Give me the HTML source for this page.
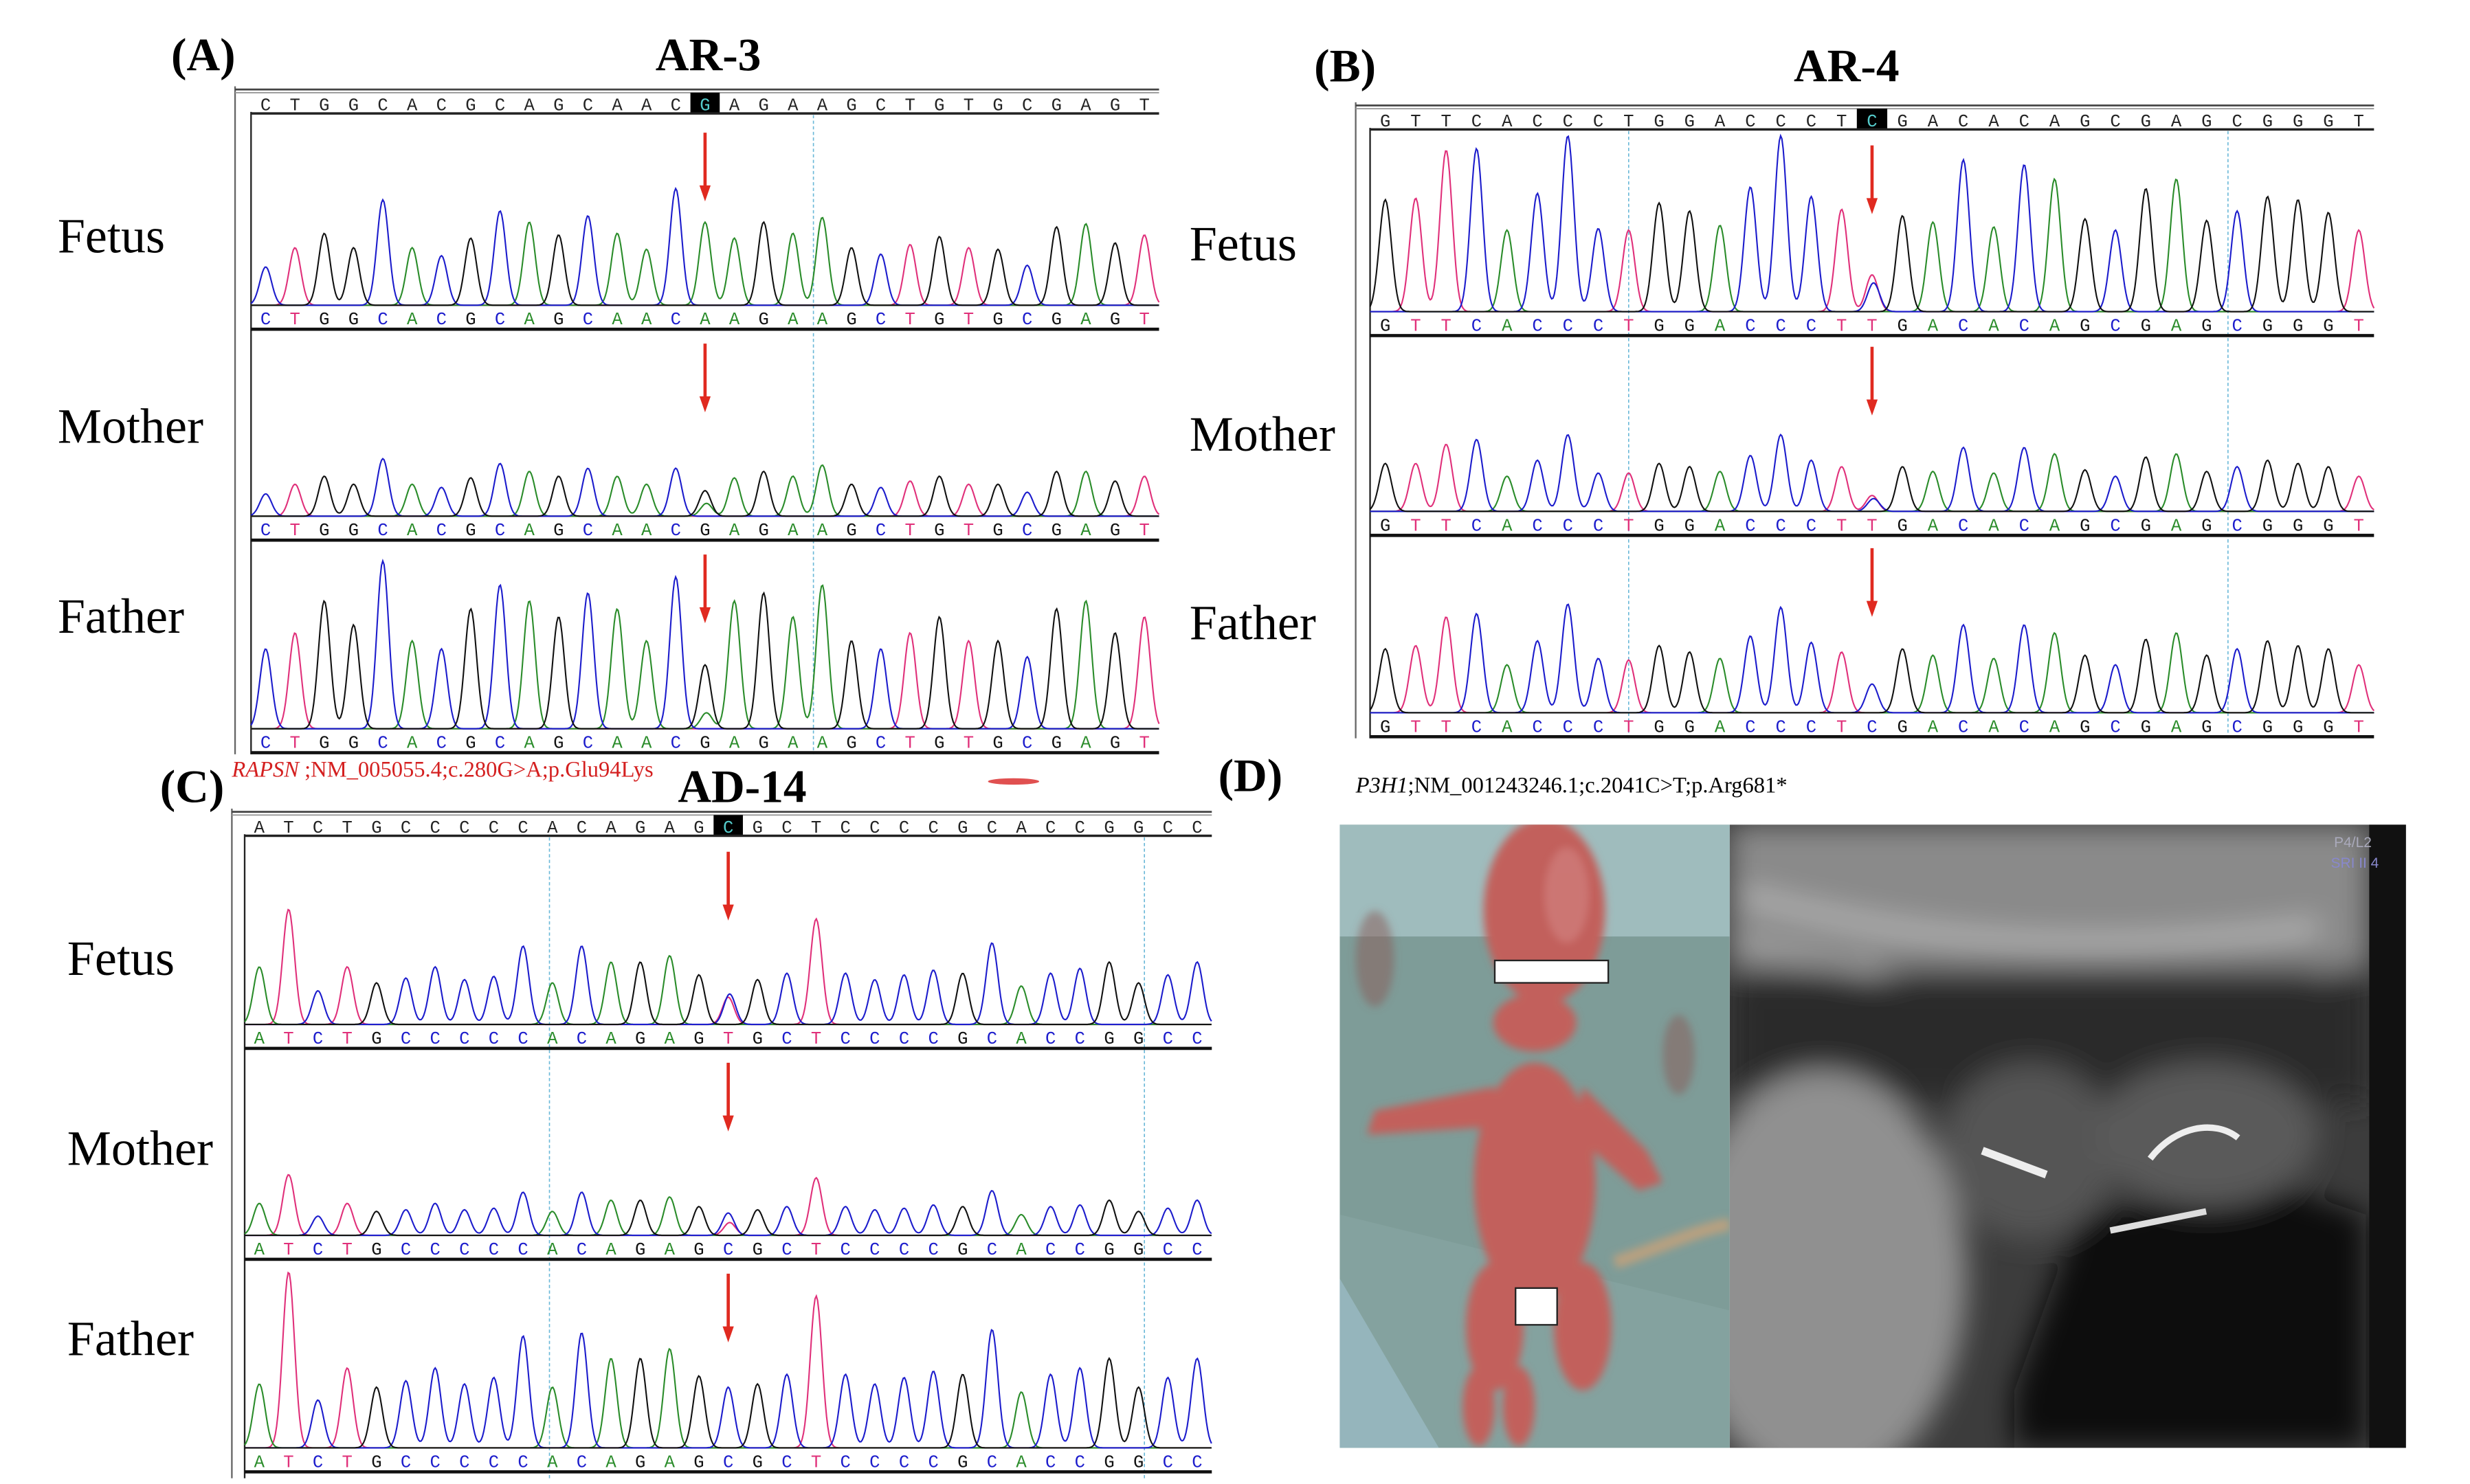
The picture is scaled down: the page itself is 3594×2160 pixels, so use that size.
<!DOCTYPE html>
<html><head><meta charset="utf-8">
<style>
html,body{margin:0;padding:0;background:#fff;}
svg{display:block;}
.lbl{font-family:"Liberation Serif",serif;font-size:31px;fill:#000;}
.ttl{font-family:"Liberation Serif",serif;font-size:29px;font-weight:bold;fill:#000;}
.seq{font-family:"Liberation Mono",monospace;font-size:11px;}
.cap{font-family:"Liberation Serif",serif;font-size:14px;}
</style></head>
<body>
<svg id="fig" width="3594" height="2160" viewBox="0 0 1545 928.6" xmlns="http://www.w3.org/2000/svg">
<defs>
<filter id="blur4"><feGaussianBlur stdDeviation="2.5"/></filter>
<filter id="blur8"><feGaussianBlur stdDeviation="9"/></filter>
<clipPath id="clipUS"><rect x="1082" y="516" width="423" height="390"/></clipPath>
<clipPath id="clipPh"><rect x="838" y="516" width="244" height="390"/></clipPath>
</defs>
<g id="panels"></g>

<text class="ttl" x="107" y="44">(A)</text>
<text class="ttl" x="410" y="44">AR-3</text>
<text class="ttl" x="822" y="51">(B)</text>
<text class="ttl" x="1122" y="51">AR-4</text>
<text class="ttl" x="100" y="502">(C)</text>
<text class="ttl" x="424" y="502">AD-14</text>
<text class="ttl" x="762" y="495">(D)</text>

<text class="lbl" x="36" y="158">Fetus</text>
<text class="lbl" x="36" y="277">Mother</text>
<text class="lbl" x="36" y="396">Father</text>
<text class="lbl" x="744" y="163">Fetus</text>
<text class="lbl" x="744" y="282">Mother</text>
<text class="lbl" x="744" y="400">Father</text>
<text class="lbl" x="42" y="610">Fetus</text>
<text class="lbl" x="42" y="729">Mother</text>
<text class="lbl" x="42" y="848">Father</text>

<text class="cap" x="145" y="486" fill="#d42020"><tspan font-style="italic">RAPSN</tspan> ;NM_005055.4;c.280G&gt;A;p.Glu94Lys</text>
<text class="cap" x="848" y="496" fill="#000"><tspan font-style="italic">P3H1</tspan>;NM_001243246.1;c.2041C&gt;T;p.Arg681*</text>
<text class="cap" x="145" y="940" fill="#d42020"><tspan font-style="italic">FGFR3</tspan> ;NM_000142.4;c.742C&gt;T;p.Arg248Cys</text>
<ellipse cx="634" cy="489" rx="16" ry="2" fill="#e05050"/>

<g clip-path="url(#clipPh)">
<rect x="838" y="516" width="244" height="390" fill="#7e9c98"/>
<rect x="838" y="516" width="244" height="70" fill="#9fbcbd"/>
<polygon points="838,800 900,906 838,906" fill="#a9cbe0"/>
<polygon points="838,760 1082,820 1082,906 838,906" fill="#88a6a4" opacity="0.6"/>
<g filter="url(#blur4)">
<ellipse cx="860" cy="600" rx="12" ry="30" fill="#8a5a55" opacity="0.5"/>
<ellipse cx="1050" cy="660" rx="10" ry="25" fill="#8a5a55" opacity="0.5"/>
<path d="M1010,790 C1040,780 1060,770 1082,766" stroke="#b8a080" stroke-width="8" fill="none"/>
</g>
<g fill="#c2605c" filter="url(#blur4)">
<ellipse cx="966" cy="570" rx="38" ry="58"/>
<ellipse cx="960" cy="740" rx="38" ry="75"/>
<ellipse cx="960" cy="640" rx="26" ry="18"/>
<path d="M935,680 L860,695 L855,710 L935,705 Z"/>
<path d="M990,680 L1030,720 L1040,740 L1025,745 L985,710 Z"/>
<ellipse cx="935" cy="830" rx="18" ry="40"/>
<ellipse cx="990" cy="830" rx="18" ry="40"/>
<ellipse cx="925" cy="880" rx="10" ry="25"/>
<ellipse cx="950" cy="880" rx="10" ry="25"/>
</g>
<ellipse cx="980" cy="560" rx="14" ry="30" fill="#e0a0a0" opacity="0.35" filter="url(#blur4)"/>
<rect x="935" y="601" width="71" height="14" fill="#fff" stroke="#222" stroke-width="1"/>
<rect x="948" y="806" width="26" height="23" fill="#fff" stroke="#222" stroke-width="1"/>
</g>
<g clip-path="url(#clipUS)">
<rect x="1082" y="516" width="423" height="390" fill="#3c3c3c"/>
<g filter="url(#blur8)">
<rect x="1082" y="516" width="400" height="90" fill="#8a8a8a"/>
<path d="M1090,560 C1200,590 1300,600 1450,580" stroke="#d8d8d8" stroke-width="5" fill="none"/>
<path d="M1090,590 C1200,620 1300,630 1460,610" stroke="#bdbdbd" stroke-width="4" fill="none"/>
<rect x="1082" y="610" width="400" height="80" fill="#2a2a2a"/>
<ellipse cx="1140" cy="800" rx="90" ry="130" fill="#909090"/>
<path d="M1260,870 L1300,760 L1420,740 L1480,760 L1480,906 L1260,906 Z" fill="#0c0c0c"/>
<ellipse cx="1270" cy="720" rx="55" ry="55" fill="#555"/>
<ellipse cx="1380" cy="710" rx="70" ry="45" fill="#5a5a5a"/>
</g>
<path d="M1240,720 L1280,735" stroke="#eee" stroke-width="5"/>
<path d="M1345,725 C1360,705 1385,700 1400,712" stroke="#eee" stroke-width="4" fill="none"/>
<path d="M1320,770 L1380,758" stroke="#ddd" stroke-width="4"/>
<rect x="1482" y="516" width="23" height="390" fill="#111"/>
<text x="1460" y="530" font-family="Liberation Sans,sans-serif" font-size="9" fill="#aab">P4/L2</text>
<text x="1458" y="543" font-family="Liberation Sans,sans-serif" font-size="9" fill="#88c">SRI II 4</text>
</g>
</svg>
<script>
const seqA_top = "CTGGCACGCAGCAACGAGAAGCTGTGCGAGT";
const seqA_bot = "CTGGCACGCAGCAACAAGAAGCTGTGCGAGT";
const hA_fetus  = [24,36,45,36,66,36,31,42,59,52,44,56,45,35,73,52,42,52,45,55,36,32,38,43,36,35,25,49,51,39,44];
const hA_mother = [14,20,25,20,36,20,18,24,33,28,25,30,25,20,30,16,24,28,25,32,20,18,22,25,20,20,15,28,28,22,25];
const hA_father = [50,60,80,65,105,55,50,75,90,80,70,85,75,55,95,40,80,85,70,90,55,50,60,70,55,55,45,75,80,60,70];

const seqB_top = "GTTCACCCTGGACCCTCGACACAGCGAGCGGGT";
const seqB_bot = "GTTCACCCTGGACCCTTGACACAGCGAGCGGGT";
const hB_fetus  = [70,71,101,102,51,74,110,52,51,68,63,54,78,110,72,64,23,60,56,95,53,92,83,58,51,77,83,57,63,72,70,62,51];
const hB_mother = [30,30,42,45,22,32,48,24,24,30,28,25,35,48,32,28,10,28,25,40,24,40,36,26,22,34,36,25,28,32,30,28,22];
const hB_father = [40,42,60,62,30,45,68,34,33,42,38,34,48,66,44,38,18,40,36,55,34,55,50,36,30,46,50,36,40,45,42,40,30];

const seqC_top = "ATCTGCCCCCACAGAGCGCTCCCCGCACCGGCC";
const seqC_bot = "ATCTGCCCCCACAGAGTGCTCCCCGCACCGGCC";
const hC_fetus  = [36,72,21,36,26,29,36,28,30,49,26,49,39,39,43,31,17,28,32,66,32,28,31,34,32,51,24,32,35,39,26,31,39];
const hC_mother = [20,38,12,20,15,16,20,16,17,27,15,27,22,22,24,18,14,16,18,36,18,16,17,19,18,28,13,18,19,22,15,17,22];
const hC_father = [40,110,30,50,38,42,50,40,44,70,38,72,56,56,62,45,38,40,46,95,46,40,44,48,46,74,35,46,50,56,38,44,56];

const altA = [["A",0],["A",8],["A",10]];
const mutBaseA = ["A","G","G"];
const altB = [["C",18],["C",8],["T",0]];
const mutBaseB = ["T","T","C"];
const altC = [["C",19],["T",8],["T",0]];
const mutBaseC = ["T","C","C"];

const NS="http://www.w3.org/2000/svg";
const COL={A:"#2a8c2a",C:"#1c1ccc",G:"#111111",T:"#e0307a"};
const root=document.getElementById('panels');
function el(tag,attrs,parent){const e=document.createElementNS(NS,tag);for(const k in attrs)e.setAttribute(k,attrs[k]);(parent||root).appendChild(e);return e;}

function drawPanel(P){
  const g=el('g',{});
  
  
  const n=P.top.length, step=(P.x1-P.x0)/n;
  const xi=i=>P.x0+(i+0.5)*step;
  const ol=el('line',{x1:P.ox,y1:P.y0-10,x2:P.ox,y2:P.yEnd,stroke:"#666","stroke-width":1},g);
  
  
  el('line',{x1:P.ox,y1:P.y0-8,x2:P.x1,y2:P.y0-8,stroke:"#444","stroke-width":1.2},g);
  el('line',{x1:P.ox,y1:P.y0-6,x2:P.x1,y2:P.y0-6,stroke:"#999","stroke-width":0.8},g);
  el('line',{x1:P.x0,y1:P.y0+6,x2:P.x0,y2:P.yEnd,stroke:"#222","stroke-width":1},g);
  const hx=xi(P.mut);
  el('rect',{x:hx-step/2,y:P.y0-6,width:step,height:13,fill:"#000"},g);
  for(let i=0;i<n;i++){
    const t=el('text',{x:xi(i),y:P.y0+5,"text-anchor":"middle","class":"seq",fill:i===P.mut?"#5cc":"#222"},g);
    t.textContent=P.top[i];
    
    
  }
  el('line',{x1:P.x0,y1:P.y0+7,x2:P.x1,y2:P.y0+7,stroke:"#222","stroke-width":1.5},g);
  P.guides.forEach(i=>{
    const gl=el('line',{x1:P.x0+i*step,y1:P.y0+8,x2:P.x0+i*step,y2:P.yEnd,stroke:"#6ab8d8","stroke-width":0.7,"stroke-dasharray":"2,1.5"},g);
    
    
  });
  P.rows.forEach((R,ri)=>{
    const rg=el('g',{},g);
    
    
    const base=R.base, sig=step*0.2;
    const peaks=[];
    for(let i=0;i<n;i++){
      const b=(i===P.mut)?P.mutBase[ri]:P.bot[i];
      peaks.push([b,xi(i),R.h[i]]);
    }
    const alt=P.alt[ri]; if(alt[1]>0) peaks.push([alt[0],xi(P.mut)+step*0.05,alt[1]]);
    ["T","A","C","G"].forEach(b=>{
      let d="";
      for(let x=P.x0;x<=P.x1;x+=0.8){
        let y=0;
        peaks.forEach(p=>{if(p[0]===b){const dx=x-p[1];if(Math.abs(dx)<step*1.5)y+=p[2]*Math.exp(-dx*dx/(2*sig*sig));}});
        y=Math.min(y,base-R.top);
        d+=(d?"L":"M")+x.toFixed(1)+","+(base-y-1).toFixed(1);
      }
      const p=el('path',{d:d,fill:"none",stroke:COL[b],"stroke-width":0.9},rg);
      
      
    });
    const ax=xi(P.mut);
    const ar=el('g',{},rg);
    
    
    el('line',{x1:ax,y1:R.top+5,x2:ax,y2:R.top+40,stroke:"#e02a20","stroke-width":2},ar);
    el('polygon',{points:(ax-3.5)+","+(R.top+38)+" "+(ax+3.5)+","+(R.top+38)+" "+ax+","+(R.top+48),fill:"#e02a20"},ar);
    for(let i=0;i<n;i++){
      const b=(i===P.mut)?P.mutBase[ri]:P.bot[i];
      const t=el('text',{x:xi(i),y:base+11,"text-anchor":"middle","class":"seq",fill:COL[b]},rg);
      t.textContent=b;
      
      
    }
    el('line',{x1:P.x0,y1:base+14,x2:P.x1,y2:base+14,stroke:"#111","stroke-width":2},rg);
  });
}

drawPanel({name:"panel-a-chromatogram",top:seqA_top,bot:seqA_bot,mut:15,mutBase:mutBaseA,alt:altA,
  x0:157,x1:725,ox:147,y0:64,yEnd:472,guides:[19.2],
  rows:[{who:"fetus",h:hA_fetus,top:78,base:192},{who:"mother",h:hA_mother,top:210,base:324},{who:"father",h:hA_father,top:342,base:457}]});
drawPanel({name:"panel-b-chromatogram",top:seqB_top,bot:seqB_bot,mut:16,mutBase:mutBaseB,alt:altB,
  x0:857,x1:1485,ox:848,y0:74,yEnd:462,guides:[8.5,28.2],
  rows:[{who:"fetus",h:hB_fetus,top:86,base:196},{who:"mother",h:hB_mother,top:212,base:321},{who:"father",h:hB_father,top:338,base:447}]});
drawPanel({name:"panel-c-chromatogram",top:seqC_top,bot:seqC_bot,mut:16,mutBase:mutBaseC,alt:altC,
  x0:153,x1:758,ox:145,y0:516,yEnd:925,guides:[10.4,30.7],
  rows:[{who:"fetus",h:hC_fetus,top:528,base:642},{who:"mother",h:hC_mother,top:660,base:774},{who:"father",h:hC_father,top:792,base:907}]});
</script>
</body></html>
